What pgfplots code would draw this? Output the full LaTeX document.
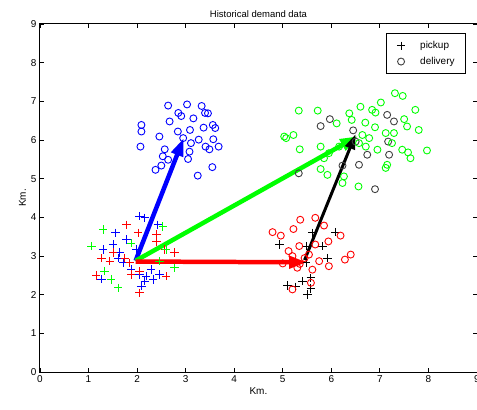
\documentclass[border=0pt]{standalone}
\usepackage{pgfplots}
\pgfplotsset{compat=1.18}
\usepackage{fontspec}
\setmainfont{Liberation Sans}
\usetikzlibrary{arrows.meta}
\begin{document}
\begin{tikzpicture}
\begin{axis}[name=ax,
  width=438pt, height=349pt, scale only axis,
  xmin=0, xmax=9, ymin=0, ymax=9,
  xtick={0,...,9}, ytick={0,...,9},
  tick align=inside, xtick pos=both, ytick pos=both,
  xticklabel pos=bottom, yticklabel pos=left,
  major tick length=4pt,
  tick style={black, line width=0.8pt},
  axis line style={line width=1pt},
  /pgf/number format/assume math mode=true,
  tick label style={font=\fontsize{10}{11}\selectfont},
  xlabel={Km.}, ylabel={Km.},
  label style={font=\fontsize{10}{11}\selectfont},
  xlabel style={yshift=2pt},
  ylabel style={yshift=-2pt},
  title={Historical demand data},
  title style={font=\fontsize{9.5}{10}\selectfont, yshift=-3pt},
  legend style={at={(0.975,0.974)}, anchor=north east, draw=black, line width=1pt,
    font=\fontsize{10}{11}\selectfont, inner xsep=10pt, inner ysep=7pt, row sep=5pt,
    nodes={inner sep=1pt}},
  legend cell align=left,
]
% legend carriers: black pickups and deliveries
\addplot[only marks, mark=+, mark size=4.2pt, black, mark options={line width=0.9pt}] coordinates {
(5.61,3.60) (6.09,3.62) (4.93,3.30) (5.82,3.26) (5.92,2.95) (5.48,3.26) (5.48,2.83)
(5.58,2.44) (5.41,2.35) (5.10,2.24) (5.27,2.21) (5.58,2.16) (5.51,2.01)
};
\addlegendentry{\hspace{14pt}pickup}
\addplot[only marks, mark=o, mark size=3.5pt, black!75, mark options={line width=0.9pt}] coordinates {
(5.78,6.36) (5.97,6.54) (7.15,6.65) (7.29,6.48) (6.45,6.25) (6.50,5.96) (7.17,5.96)
(6.74,5.62) (7.19,5.62) (6.57,5.36) (5.33,5.14) (6.90,4.73) (6.23,5.34)
};
\addlegendentry{\hspace{14pt}delivery}
% blue deliveries
\addplot[only marks, mark=o, mark size=3.5pt, blue, mark options={line width=0.9pt}, forget plot] coordinates {
(2.64,6.89) (3.03,6.92) (3.33,6.88) (3.46,6.69) (2.91,6.62) (3.16,6.56) (2.67,6.48)
(2.09,6.39) (2.09,6.22) (2.46,6.09) (2.84,6.22) (3.09,6.26) (3.37,6.32) (3.56,6.39)
(3.61,6.31) (2.07,5.83) (2.57,5.76) (3.27,6.01) (3.41,5.83) (3.57,6.02) (3.68,5.83)
(3.11,5.92) (2.53,5.58) (2.64,5.49) (3.05,5.51) (2.50,5.34) (2.38,5.23) (3.55,5.30)
(3.25,5.08) (3.08,5.70) (3.49,5.76) (2.85,6.70) (3.40,6.70) (2.95,6.05)
};
% green deliveries
\addplot[only marks, mark=o, mark size=3.5pt, green, mark options={line width=0.9pt}, forget plot] coordinates {
(7.31,7.21) (7.47,7.14) (7.02,6.97) (6.84,6.78) (6.91,6.71) (6.60,6.86) (6.37,6.69)
(5.72,6.76) (5.33,6.76) (6.11,6.43) (6.42,6.52) (7.73,6.78) (7.50,6.54) (7.56,6.35)
(7.80,6.26) (7.29,6.18) (7.12,6.18) (6.90,6.33) (6.64,6.13) (6.78,6.05) (5.07,6.05)
(5.22,6.13) (5.35,5.76) (5.78,5.83) (5.95,5.66) (6.16,5.83) (6.57,5.92) (6.71,5.83)
(6.95,5.75) (7.25,5.92) (7.46,5.75) (7.58,5.68) (7.63,5.53) (7.97,5.73) (5.85,5.53)
(5.78,5.25) (5.92,5.10) (6.26,5.06) (6.56,4.80) (7.15,5.36) (7.12,5.28) (6.23,4.89)
(5.03,6.09) (6.70,6.45)
};
% red deliveries
\addplot[only marks, mark=o, mark size=3.5pt, red, mark options={line width=0.9pt}, forget plot] coordinates {
(5.67,3.99) (5.36,3.94) (5.22,3.70) (4.79,3.62) (4.96,3.53) (5.85,3.79) (6.19,3.53)
(5.94,3.38) (5.67,3.30) (5.34,3.26) (5.12,3.13) (5.20,3.00) (5.54,3.04) (5.75,2.87)
(5.95,2.74) (5.61,2.65) (6.28,2.91) (6.40,3.04) (5.00,2.81) (5.30,2.70) (5.20,2.14)
(5.58,2.31) (5.45,2.95) (5.35,2.80)
};
% blue pickups
\addplot[only marks, mark=+, mark size=4.2pt, blue, mark options={line width=0.9pt}, forget plot] coordinates {
(2.05,4.03) (2.16,3.99) (1.56,3.60) (1.78,3.43) (1.51,3.30) (1.30,3.17) (1.64,3.09)
(1.99,3.17) (1.71,2.83) (1.88,2.65) (2.05,2.53) (2.19,2.48) (2.16,2.35) (2.33,2.40)
(2.46,2.53) (2.29,2.65) (1.27,2.41) (2.43,3.81) (2.09,2.22) (1.61,2.95)
};
% red pickups
\addplot[only marks, mark=+, mark size=4.2pt, red, mark options={line width=0.9pt}, forget plot] coordinates {
(1.78,3.81) (2.02,3.60) (2.40,3.56) (1.51,3.09) (1.27,2.95) (1.44,2.87) (1.75,2.95)
(1.85,2.83) (2.05,2.61) (2.60,2.48) (1.16,2.50) (2.05,2.05) (2.77,3.09) (2.57,3.17)
(2.40,3.38) (1.88,2.53)
};
% green pickups
\addplot[only marks, mark=+, mark size=4.2pt, green, mark options={line width=0.9pt}, forget plot] coordinates {
(1.30,3.69) (1.06,3.26) (1.61,2.18) (1.33,2.61) (2.77,2.70) (2.46,2.87) (2.60,3.17)
(2.53,3.77) (1.88,3.34) (1.47,2.40)
};
% arrows
\addplot[blue, line width=4.5pt, -{Triangle[length=18pt,width=12pt]}, forget plot] coordinates {(1.97,2.88) (2.96,6.05)};
\addplot[green, line width=4.5pt, -{Triangle[length=18pt,width=12pt]}, forget plot] coordinates {(1.97,2.88) (6.55,6.10)};
\addplot[red, line width=4.5pt, -{Triangle[length=18pt,width=12pt]}, forget plot] coordinates {(1.97,2.86) (5.50,2.84)};
\addplot[black, line width=3pt, -{Triangle[length=15pt,width=10pt]}, forget plot] coordinates {(5.45,2.90) (6.50,6.15)};
\end{axis}
\pgfresetboundingbox
\path (ax.south west) ++(-40pt,-37pt) coordinate (bl);
\path (ax.north east) ++(-1pt,24pt) coordinate (tr);
\path[use as bounding box] (bl) rectangle (tr);
\end{tikzpicture}
\end{document}
